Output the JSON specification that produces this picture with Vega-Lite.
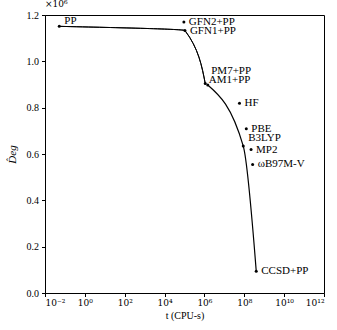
{
  "$schema": "https://vega.github.io/schema/vega-lite/v6.json",
  "width": 279,
  "height": 278,
  "autosize": "none",
  "padding": {"left": 45, "top": 15, "right": 13, "bottom": 37},
  "background": "white",
  "config": {
    "font": "Liberation Serif",
    "view": {"stroke": "black", "strokeWidth": 1},
    "axis": {
      "domainColor": "black", "tickColor": "black", "labelColor": "black", "titleColor": "black",
      "grid": false, "tickSize": 3.5, "labelFontSize": 10, "titleFontSize": 10,
      "labelFont": "Liberation Serif", "titleFont": "Liberation Serif", "titleFontWeight": "normal",
      "domainWidth": 1, "tickWidth": 1
    },
    "title": {"font": "DejaVu Serif", "fontSize": 9, "fontWeight": "normal", "color": "black"}
  },
  "title": {"text": "×10⁶", "anchor": "start", "frame": "group", "offset": 1},
  "data": {
    "values": [
      {"method": "PP", "t": 0.052, "D": 1151000, "front": "upper"},
      {"method": "GFN2+PP", "t": 93000, "D": 1170000, "front": "none"},
      {"method": "GFN1+PP", "t": 105000, "D": 1133000, "front": "upper"},
      {"method": "PM7+PP", "t": 1100000, "D": 904000, "front": "upper"},
      {"method": "AM1+PP", "t": 1470000, "D": 898000, "front": "lower"},
      {"method": "HF", "t": 57500000, "D": 819000, "front": "none"},
      {"method": "PBE", "t": 126000000, "D": 709000, "front": "none"},
      {"method": "B3LYP", "t": 89000000, "D": 634000, "front": "lower"},
      {"method": "MP2", "t": 219000000, "D": 619000, "front": "none"},
      {"method": "ωB97M-V", "t": 263000000, "D": 555000, "front": "none"},
      {"method": "CCSD+PP", "t": 398000000, "D": 94000, "front": "lower"}
    ]
  },
  "encoding": {
    "x": {
      "field": "t", "type": "quantitative",
      "scale": {"type": "log", "domain": [0.01, 1000000000000], "nice": false},
      "axis": {
        "values": [0.01, 1, 100, 10000, 1000000, 100000000, 10000000000, 1000000000000],
        "title": "t (CPU-s)", "titlePadding": 3, "labelPadding": 2,
        "labelFont": "DejaVu Serif", "labelFontSize": 9,
        "labelExpr": "'10' + (round(log(datum.value)/LN10) == -2 ? '⁻²' : round(log(datum.value)/LN10) == 0 ? '⁰' : round(log(datum.value)/LN10) == 2 ? '²' : round(log(datum.value)/LN10) == 4 ? '⁴' : round(log(datum.value)/LN10) == 6 ? '⁶' : round(log(datum.value)/LN10) == 8 ? '⁸' : round(log(datum.value)/LN10) == 10 ? '¹⁰' : '¹²')"
      }
    },
    "y": {
      "field": "D", "type": "quantitative",
      "scale": {"domain": [0, 1200000], "nice": false, "zero": false},
      "axis": {
        "values": [0, 200000, 400000, 600000, 800000, 1000000, 1200000],
        "labelExpr": "format(datum.value/1000000, '.1f')",
        "title": "D̂eg", "titleFontStyle": "italic", "titleFontSize": 11, "titlePadding": 9, "labelPadding": 3
      }
    }
  },
  "layer": [
    {
      "transform": [{"filter": "datum.front == 'upper'"}],
      "mark": {"type": "area", "interpolate": "monotone", "orient": "horizontal", "fillOpacity": 0, "color": "black", "stroke": "black", "strokeWidth": 1},
      "encoding": {
        "x2": {"field": "t"},
        "y": {"field": "D", "type": "quantitative", "stack": null}
      }
    },
    {
      "transform": [{"filter": "datum.front == 'lower'"}],
      "mark": {"type": "line", "interpolate": "monotone", "color": "black", "strokeWidth": 1.2}
    },
    {
      "mark": {"type": "circle", "size": 9, "color": "black", "opacity": 1}
    },
    {
      "transform": [{"filter": "indexof(['PP','PM7+PP','AM1+PP','B3LYP'], datum.method) < 0"}],
      "mark": {"type": "text", "align": "left", "baseline": "middle", "dx": 5, "fontSize": 11, "color": "black"},
      "encoding": {"text": {"field": "method"}}
    },
    {
      "transform": [{"filter": "datum.method == 'PP'"}],
      "mark": {"type": "text", "align": "left", "baseline": "middle", "dx": 5, "dy": -5, "fontSize": 11, "color": "black"},
      "encoding": {"text": {"field": "method"}}
    },
    {
      "transform": [{"filter": "datum.method == 'PM7+PP'"}],
      "mark": {"type": "text", "align": "left", "baseline": "middle", "dx": 6, "dy": -13, "fontSize": 11, "color": "black"},
      "encoding": {"text": {"field": "method"}}
    },
    {
      "transform": [{"filter": "datum.method == 'AM1+PP'"}],
      "mark": {"type": "text", "align": "left", "baseline": "middle", "dx": 1, "dy": -4.5, "fontSize": 11, "color": "black"},
      "encoding": {"text": {"field": "method"}}
    },
    {
      "transform": [{"filter": "datum.method == 'B3LYP'"}],
      "mark": {"type": "text", "align": "left", "baseline": "middle", "dx": 5, "dy": -8, "fontSize": 11, "color": "black"},
      "encoding": {"text": {"field": "method"}}
    }
  ]
}
